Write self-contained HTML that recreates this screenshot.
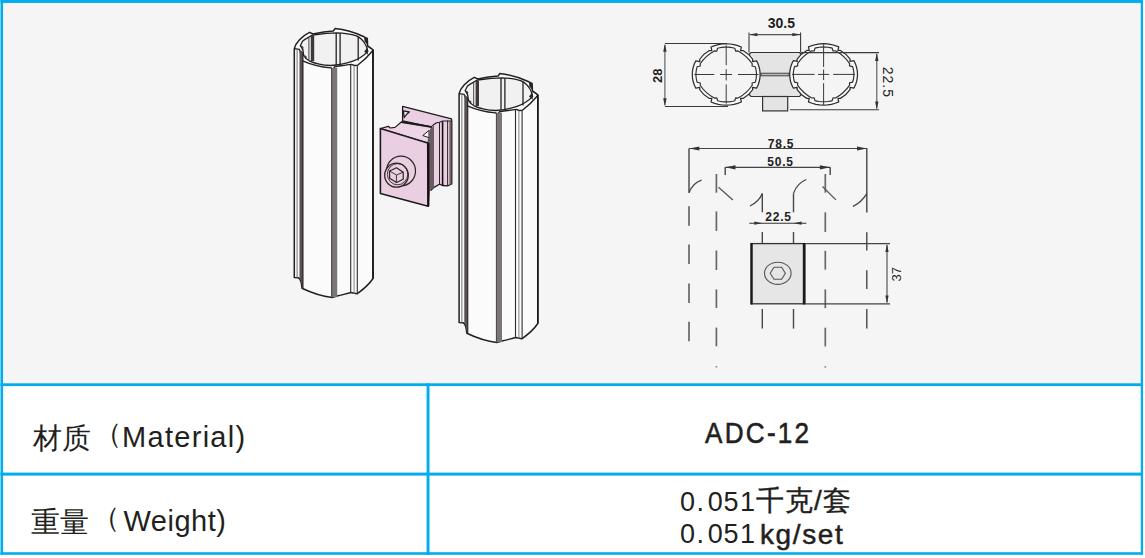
<!DOCTYPE html>
<html><head><meta charset="utf-8">
<style>
html,body{margin:0;padding:0;}
body{width:1145px;height:558px;position:relative;overflow:hidden;background:#fff;font-family:"Liberation Sans",sans-serif;}
.b{position:absolute;background:#00adee;}
.t{position:absolute;white-space:nowrap;color:#231f20;}
svg{position:absolute;left:0;top:0;}
</style></head>
<body>
<div style="position:absolute;left:0;top:0;width:1143px;height:384px;background:#f5f5f5"></div>
<svg width="1145" height="558" viewBox="0 0 1145 558">
<!--DRAWING-->
<defs>
<g id="tube">
  <!-- silhouette -->
  <path d="M294.3,48.6 C295.5,43 302,36 309.5,32.3 L313,34 C320,32.3 327,31.2 333.3,31 L335,28.6 C345,29.5 356,33 364,36.8 L367.3,38.5 L367.6,46 C369.5,47 371.3,48.5 373,49.8 L373,278.5 C368,286 361,291 357,293.8 L350.8,292.6 C345,294 340,295.5 336.8,296 L332,297.5 C320,296 310,292 302,288.2 C301.6,283 301,279 298.3,277.8 L294.3,277.4 Z" fill="#fbfbfb" stroke="#231f1f" stroke-width="1.5" stroke-linejoin="round"/>
  <!-- inner opening -->
  <path d="M300.3,45.7 L302.5,41.3 C304.5,39.5 307,38 309.3,36.8 L312,35.4 C314,34.8 315.5,34.6 316.9,34.5 C323,33.6 330,33 336.6,32.8 C344,33 351,34 356.5,35.8 C360,37.5 363.5,41 365.2,44 C366.5,46 367.2,48.5 367.8,51.4 C365.5,54 363,56 360.8,57.3 C358,59 355.5,60.3 352.9,61.2 C346,63.5 338,65.2 330.9,65.5 C323,65.2 315,63.5 309.3,60.8 C307,59.5 305,57.8 303.8,55.7 C303.2,53.5 303,51.5 303,50.2 C302.2,48.5 301.2,47 300.3,45.7 Z" fill="#f1f1f1" stroke="#231f1f" stroke-width="1.3" stroke-linejoin="round"/>
  <!-- inner back-wall lines -->
  <path d="M308.9,37.5 V60.5" stroke="#444" stroke-width="1"/>
  <rect x="310.8" y="36" width="3.4" height="25" fill="#3e3838"/>
  <path d="M336.2,33.2 V65 M340.1,33.2 V65" stroke="#262222" stroke-width="1.3"/>
  <path d="M358.2,36.5 V60.5" stroke="#262222" stroke-width="1.3"/>
  <!-- notches on inner ring -->
  <path d="M300.2,45.5 L303,47 L302.6,50.5" fill="none" stroke="#2e2a2a" stroke-width="1"/>
  <path d="M303.8,55.7 L306.2,56.5 L305.5,59" fill="none" stroke="#2e2a2a" stroke-width="1"/>
  <path d="M367.6,47.3 L367.9,54.8 L364.2,51.4 Z" fill="#2a2525"/>
  <path d="M364,37 L367.4,38.5 L367.6,45.2 L364.6,41.2 Z" fill="#2a2525"/>
  <!-- outer front edge of rim -->
  <path d="M294.3,48.6 L299.4,49.4 C300.5,52 301.5,56 302.6,60.8 C311,64.5 321,67 330.9,67.9 L332.8,69.5 L334.8,66.7 C340,66 346,65 351.3,64.4 L354.5,65.5 L357.6,65.3 C362,62 368,56.5 371.8,51.8 L373,49.8" fill="none" stroke="#231f1f" stroke-width="1.4" stroke-linejoin="round"/>
  <!-- body vertical lines -->
  <path d="M297.1,49.5 V277.8" stroke="#666" stroke-width="0.9"/>
  <path d="M299.5,49.4 L303,52 V288.2 L302,288.2 C301.6,283 301,279 299.5,278.2 Z" fill="#575151"/>
  <path d="M303,52 V288.2" stroke="#1e1a1a" stroke-width="1"/>
  <rect x="331.3" y="67.9" width="5.9" height="229.3" fill="#7a7676"/>
  <path d="M331.6,67.9 V297.3" stroke="#4a4545" stroke-width="1"/>
  <path d="M350.7,64.4 V293" stroke="#2e2a2a" stroke-width="1.1"/>
  <path d="M354.1,65.5 V293.8" stroke="#777" stroke-width="0.9"/>
  <path d="M357.3,65.3 V293.8" stroke="#2e2a2a" stroke-width="1.1"/>
  <path d="M373,49.8 V278.5" stroke="#1a1616" stroke-width="1.6"/>
</g>
</defs>
<use href="#tube"/>
<use href="#tube" x="164.8" y="45"/>

<!-- connector -->
<g stroke-linejoin="round">
  <!-- back flange + rib body -->
  <path d="M402.6,106.3 L451.5,118.8 L451.8,121.5 L451.8,184 L447.6,185.8 L442.5,185.5 L439.5,184.2 L434,187.4 L431,190.3 L431,127 L402.6,121 Z" fill="#eacfe2" stroke="#1f1b1c" stroke-width="1.3"/>
  <path d="M450.2,121.2 V184.5" stroke="#75656c" stroke-width="1.8"/>
  <path d="M439.5,122.5 V184.2" stroke="#2a2225" stroke-width="1"/>
  <path d="M442.6,121.5 V185.5" stroke="#141011" stroke-width="1.6"/>
  <path d="M447.6,120.5 V185.8" stroke="#2a2225" stroke-width="1"/>
  <path d="M430.9,126.9 L436,123 L439.5,122.3 L442.6,121 L451.5,121" fill="none" stroke="#1f1b1c" stroke-width="1.1"/>
  <!-- back flange notch -->
  <path d="M403.4,110.8 L409.3,112 Q406.5,114 404.2,117.5 Z" fill="#f7eef4" stroke="#1f1b1c" stroke-width="1.3"/>
  <!-- top face of middle -->
  <path d="M380.4,128.5 L388.4,126.3 L390.2,128 L395,127.4 L401.3,122 L430.9,126.9 L431.5,129 L428,142.5 L427.7,143 Z" fill="#edd4e6" stroke="#1f1b1c" stroke-width="1.2"/>
  <path d="M401.3,122 L430.9,126.9" stroke="#1f1b1c" stroke-width="1.8"/>
  <!-- front notch -->
  <path d="M429,130.5 L422.8,135.5 L429,137.7 Z" fill="#fff" stroke="#1f1b1c" stroke-width="1"/>
  <!-- side dark face -->
  <path d="M428,143 L429.5,130 L434,125.5 L434,187.4 L430,190.5 L428.8,206.3 Z" fill="#6b5c63"/>
  <!-- front face -->
  <path d="M380.4,128.5 L427.7,143 L428.2,206.3 L380.4,193.5 Z" fill="#eacfe2" stroke="#1f1b1c" stroke-width="1.6"/>
  <path d="M428.3,143 V206.3" stroke="#141011" stroke-width="2.2"/>
  <!-- screw -->
  <ellipse cx="401" cy="171" rx="14.5" ry="14.8" fill="#eacfe2" stroke="#2a2425" stroke-width="1.2"/>
  <path d="M388.5,166 L394,160.5 L403,168 L408.5,182 L400.8,186.5 L392,181 Z" fill="#eacfe2"/>
  <ellipse cx="396.5" cy="175.2" rx="11.8" ry="12" fill="#eacfe2" stroke="#2a2425" stroke-width="1.3"/>
  <ellipse cx="397.6" cy="174.2" rx="10.2" ry="10.6" fill="none" stroke="#2a2425" stroke-width="0.9"/>
  <path d="M389.6,171 L396.5,167.8 L403.2,172.2 L403.2,179.2 L396.5,182.5 L389.6,178.3 Z" fill="#eacfe2" stroke="#2a2425" stroke-width="1.2"/>
  <path d="M389.6,171 L396.5,175 L403.2,172.2 M396.5,175 L396.3,182.4" fill="none" stroke="#2a2425" stroke-width="0.9"/>
</g>
<!-- /connector -->
<!-- tech -->
<path d="M751,52.5 L799.5,52.5 L801,54 L801,95 L799.5,96.5 L751,96.5 L749.5,95 L749.5,54 Z" fill="#e4e4e4" stroke="#333" stroke-width="1.2"/>
<rect x="762.6" y="96.5" width="25.1" height="14.4" fill="#e4e4e4" stroke="#333" stroke-width="1.2"/>
<rect x="761" y="73.2" width="28" height="2.6" fill="#bdbdbd" stroke="#333" stroke-width="0.9"/>
<path d="M664.90,43.50 L727.00,43.50" stroke="#3a3a3a" stroke-width="1.10"/>
<path d="M664.90,106.50 L728.00,106.50" stroke="#3a3a3a" stroke-width="1.10"/>
<path d="M664.90,45.00 L664.90,105.00" stroke="#555" stroke-width="1.10"/>
<path d="M664.90,43.80 L666.60,51.80 L663.20,51.80 Z" fill="#333"/>
<path d="M664.90,106.20 L663.20,98.20 L666.60,98.20 Z" fill="#333"/>
<path d="M749.00,32.50 L749.00,52.50" stroke="#3a3a3a" stroke-width="1.10"/>
<path d="M800.60,32.50 L800.60,52.50" stroke="#3a3a3a" stroke-width="1.10"/>
<path d="M750.00,34.60 L800.00,34.60" stroke="#555" stroke-width="1.10"/>
<path d="M749.30,34.60 L757.30,32.90 L757.30,36.30 Z" fill="#333"/>
<path d="M800.30,34.60 L792.30,36.30 L792.30,32.90 Z" fill="#333"/>
<path d="M790.00,109.80 L879.00,109.80" stroke="#3a3a3a" stroke-width="1.10"/>
<path d="M876.80,54.00 L876.80,108.50" stroke="#555" stroke-width="1.10"/>
<path d="M876.80,52.90 L878.50,60.90 L875.10,60.90 Z" fill="#333"/>
<path d="M876.80,109.50 L875.10,101.50 L878.50,101.50 Z" fill="#333"/>
<path d="M756.56,60.80 L758.10,64.06 L759.22,67.46 L759.90,70.96 L760.12,74.50 L759.90,78.04 L759.22,81.54 L758.10,84.94 L756.56,88.20 L752.61,87.48 L752.67,89.76 Q749.02,95.15 743.06,98.45 L740.54,98.40 L741.34,101.97 L737.73,103.37 L733.98,104.38 L730.11,105.00 L726.20,105.20 L722.29,105.00 L718.42,104.38 L714.67,103.37 L711.06,101.97 L711.86,98.40 L709.34,98.45 Q703.38,95.15 699.73,89.76 L699.79,87.48 L695.84,88.20 L694.30,84.94 L693.18,81.54 L692.50,78.04 L692.28,74.50 L692.50,70.96 L693.18,67.46 L694.30,64.06 L695.84,60.80 L699.79,61.52 L699.73,59.24 Q703.38,53.85 709.34,50.55 L711.86,50.60 L711.06,47.03 L714.67,45.63 L718.42,44.62 L722.29,44.00 L726.20,43.80 L730.11,44.00 L733.98,44.62 L737.73,45.63 L741.34,47.03 L740.54,50.60 L743.06,50.55 Q749.02,53.85 752.67,59.24 L752.61,61.52 Z" fill="#f9f9f9" stroke="#2e2e2e" stroke-width="1.25" stroke-linejoin="round"/>
<path d="M755.23,66.72 L755.77,68.63 L756.16,70.57 L756.40,72.53 L756.48,74.50 L756.40,76.47 L756.16,78.43 L755.77,80.37 L755.23,82.28 L752.06,83.02 L752.24,85.24 Q746.91,93.24 738.07,98.07 L735.61,97.90 L734.80,100.77 L732.69,101.26 L730.54,101.62 L728.38,101.83 L726.20,101.90 L724.02,101.83 L721.86,101.62 L719.71,101.26 L717.60,100.77 L716.79,97.90 L714.33,98.07 Q705.49,93.24 700.16,85.24 L700.34,83.02 L697.17,82.28 L696.63,80.37 L696.24,78.43 L696.00,76.47 L695.92,74.50 L696.00,72.53 L696.24,70.57 L696.63,68.63 L697.17,66.72 L700.34,65.98 L700.16,63.76 Q705.49,55.76 714.33,50.93 L716.79,51.10 L717.60,48.23 L719.71,47.74 L721.86,47.38 L724.02,47.17 L726.20,47.10 L728.38,47.17 L730.54,47.38 L732.69,47.74 L734.80,48.23 L735.61,51.10 L738.07,50.93 Q746.91,55.76 752.24,63.76 L752.06,65.98 Z" fill="#f4f4f4" stroke="#2e2e2e" stroke-width="1.15" stroke-linejoin="round"/>
<path d="M853.96,60.70 L855.50,63.96 L856.62,67.36 L857.30,70.86 L857.52,74.40 L857.30,77.94 L856.62,81.44 L855.50,84.84 L853.96,88.10 L850.01,87.38 L850.07,89.66 Q846.42,95.05 840.46,98.35 L837.94,98.30 L838.74,101.87 L835.13,103.27 L831.38,104.28 L827.51,104.90 L823.60,105.10 L819.69,104.90 L815.82,104.28 L812.07,103.27 L808.46,101.87 L809.26,98.30 L806.74,98.35 Q800.78,95.05 797.13,89.66 L797.19,87.38 L793.24,88.10 L791.70,84.84 L790.58,81.44 L789.90,77.94 L789.68,74.40 L789.90,70.86 L790.58,67.36 L791.70,63.96 L793.24,60.70 L797.19,61.42 L797.13,59.14 Q800.78,53.75 806.74,50.45 L809.26,50.50 L808.46,46.93 L812.07,45.53 L815.82,44.52 L819.69,43.90 L823.60,43.70 L827.51,43.90 L831.38,44.52 L835.13,45.53 L838.74,46.93 L837.94,50.50 L840.46,50.45 Q846.42,53.75 850.07,59.14 L850.01,61.42 Z" fill="#f9f9f9" stroke="#2e2e2e" stroke-width="1.25" stroke-linejoin="round"/>
<path d="M852.63,66.62 L853.17,68.53 L853.56,70.47 L853.80,72.43 L853.88,74.40 L853.80,76.37 L853.56,78.33 L853.17,80.27 L852.63,82.18 L849.46,82.92 L849.64,85.14 Q844.31,93.14 835.47,97.97 L833.01,97.80 L832.20,100.67 L830.09,101.16 L827.94,101.52 L825.78,101.73 L823.60,101.80 L821.42,101.73 L819.26,101.52 L817.11,101.16 L815.00,100.67 L814.19,97.80 L811.73,97.97 Q802.89,93.14 797.56,85.14 L797.74,82.92 L794.57,82.18 L794.03,80.27 L793.64,78.33 L793.40,76.37 L793.32,74.40 L793.40,72.43 L793.64,70.47 L794.03,68.53 L794.57,66.62 L797.74,65.88 L797.56,63.66 Q802.89,55.66 811.73,50.83 L814.19,51.00 L815.00,48.13 L817.11,47.64 L819.26,47.28 L821.42,47.07 L823.60,47.00 L825.78,47.07 L827.94,47.28 L830.09,47.64 L832.20,48.13 L833.01,51.00 L835.47,50.83 Q844.31,55.66 849.64,63.66 L849.46,65.88 Z" fill="#f4f4f4" stroke="#2e2e2e" stroke-width="1.15" stroke-linejoin="round"/>
<path d="M801.00,52.60 L879.00,52.60" stroke="#3a3a3a" stroke-width="1.10"/>
<path d="M694.30,74.50 L714.20,74.50" stroke="#3a3a3a" stroke-width="1.00"/>
<path d="M720.10,74.50 L732.00,74.50" stroke="#3a3a3a" stroke-width="1.00"/>
<path d="M738.00,74.50 L758.60,74.50" stroke="#3a3a3a" stroke-width="1.00"/>
<path d="M726.20,45.30 L726.20,65.20" stroke="#3a3a3a" stroke-width="1.00"/>
<path d="M726.20,69.20 L726.20,80.40" stroke="#3a3a3a" stroke-width="1.00"/>
<path d="M726.20,84.40 L726.20,103.60" stroke="#3a3a3a" stroke-width="1.00"/>
<path d="M792.00,74.40 L814.70,74.40" stroke="#3a3a3a" stroke-width="1.00"/>
<path d="M818.00,74.40 L829.20,74.40" stroke="#3a3a3a" stroke-width="1.00"/>
<path d="M833.20,74.40 L855.00,74.40" stroke="#3a3a3a" stroke-width="1.00"/>
<path d="M823.60,44.50 L823.60,67.00" stroke="#3a3a3a" stroke-width="1.00"/>
<path d="M823.60,69.50 L823.60,80.00" stroke="#3a3a3a" stroke-width="1.00"/>
<path d="M823.60,83.20 L823.60,105.00" stroke="#3a3a3a" stroke-width="1.00"/>
<path d="M689.00,148.50 L867.30,148.50" stroke="#444" stroke-width="1.20"/>
<path d="M689.30,148.50 L699.30,146.40 L699.30,150.60 Z" fill="#333"/>
<path d="M867.00,148.50 L857.00,150.60 L857.00,146.40 Z" fill="#333"/>
<path d="M689.00,148.50 L689.00,192.70" stroke="#444" stroke-width="1.40"/>
<path d="M866.80,148.50 L866.80,212.60" stroke="#444" stroke-width="1.40"/>
<path d="M725.20,167.30 L830.20,167.30" stroke="#444" stroke-width="1.20"/>
<path d="M725.50,167.30 L735.50,165.20 L735.50,169.40 Z" fill="#333"/>
<path d="M829.90,167.30 L819.90,169.40 L819.90,165.20 Z" fill="#333"/>
<path d="M725.20,167.30 L725.20,175.00" stroke="#444" stroke-width="1.40"/>
<path d="M830.20,167.30 L830.20,175.00" stroke="#444" stroke-width="1.40"/>
<path d="M749.30,223.20 L806.40,223.20" stroke="#333" stroke-width="1.10"/>
<path d="M762.30,223.20 L754.30,224.80 L754.30,221.60 Z" fill="#333"/>
<path d="M793.60,223.20 L801.60,221.60 L801.60,224.80 Z" fill="#333"/>
<path d="M689.00,206.30 L689.00,225.80" stroke="#4a4646" stroke-width="1.40"/>
<path d="M689.00,244.50 L689.00,264.00" stroke="#4a4646" stroke-width="1.40"/>
<path d="M689.00,283.40 L689.00,303.00" stroke="#4a4646" stroke-width="1.40"/>
<path d="M689.00,321.70 L689.00,341.20" stroke="#4a4646" stroke-width="1.40"/>
<path d="M716.40,174.00 L716.40,192.70" stroke="#6a6666" stroke-width="1.70"/>
<path d="M716.40,211.40 L716.40,230.90" stroke="#6a6666" stroke-width="1.70"/>
<path d="M716.40,250.50 L716.40,270.00" stroke="#6a6666" stroke-width="1.70"/>
<path d="M716.40,289.40 L716.40,308.00" stroke="#6a6666" stroke-width="1.70"/>
<path d="M716.40,327.60 L716.40,346.30" stroke="#6a6666" stroke-width="1.70"/>
<path d="M716.40,366.20 L716.40,367.40" stroke="#6a6666" stroke-width="1.70"/>
<path d="M762.30,193.40 L762.30,212.30" stroke="#4a4646" stroke-width="1.40"/>
<path d="M762.30,232.00 L762.30,243.10" stroke="#4a4646" stroke-width="1.40"/>
<path d="M762.30,309.00 L762.30,328.60" stroke="#4a4646" stroke-width="1.40"/>
<path d="M793.50,193.40 L793.50,212.30" stroke="#4a4646" stroke-width="1.40"/>
<path d="M793.50,232.00 L793.50,243.10" stroke="#4a4646" stroke-width="1.40"/>
<path d="M793.50,309.00 L793.50,328.60" stroke="#4a4646" stroke-width="1.40"/>
<path d="M825.30,174.00 L825.30,192.70" stroke="#6a6666" stroke-width="1.70"/>
<path d="M825.30,212.30 L825.30,232.00" stroke="#6a6666" stroke-width="1.70"/>
<path d="M825.30,250.80 L825.30,269.60" stroke="#6a6666" stroke-width="1.70"/>
<path d="M825.30,289.40 L825.30,308.10" stroke="#6a6666" stroke-width="1.70"/>
<path d="M825.30,327.70 L825.30,346.40" stroke="#6a6666" stroke-width="1.70"/>
<path d="M825.30,366.30 L825.30,367.50" stroke="#6a6666" stroke-width="1.70"/>
<path d="M866.80,232.30 L866.80,250.60" stroke="#4a4646" stroke-width="1.40"/>
<path d="M866.80,270.30 L866.80,289.10" stroke="#4a4646" stroke-width="1.40"/>
<path d="M866.80,308.90 L866.80,328.60" stroke="#4a4646" stroke-width="1.40"/>
<path d="M689,192.7 C691.5,186.5 696,182 701.5,180.2" fill="none" stroke="#444" stroke-width="1.3"/>
<path d="M718.5,187.3 L732.9,199.9" fill="none" stroke="#555" stroke-width="1.3"/>
<path d="M749.9,206 C755,203.5 760,199 762.3,193.4" fill="none" stroke="#444" stroke-width="1.3"/>
<path d="M793.5,193.4 C795.5,187.5 800,182 806.3,179.5" fill="none" stroke="#444" stroke-width="1.3"/>
<path d="M822.5,186.5 L835.9,199.9" fill="none" stroke="#555" stroke-width="1.3"/>
<path d="M852.9,206.3 C858,204 863.5,199 866.8,193.6" fill="none" stroke="#444" stroke-width="1.3"/>
<rect x="751.5" y="243.6" width="52.5" height="60.2" fill="#e6e6e6" stroke="#333" stroke-width="1.3"/>
<path d="M751.50,243.00 L751.50,304.50" stroke="#1a1a1a" stroke-width="2.40"/>
<path d="M804.20,243.00 L804.20,304.50" stroke="#1a1a1a" stroke-width="2.80"/>
<path d="M805.00,243.60 L890.00,243.60" stroke="#444" stroke-width="1.20"/>
<path d="M805.00,303.80 L890.00,303.80" stroke="#444" stroke-width="1.20"/>
<path d="M887.00,245.00 L887.00,302.50" stroke="#555" stroke-width="1.20"/>
<path d="M887.00,244.00 L888.60,252.00 L885.40,252.00 Z" fill="#333"/>
<path d="M887.00,303.40 L885.40,295.40 L888.60,295.40 Z" fill="#333"/>
<ellipse cx="777.8" cy="273.3" rx="13.3" ry="11.1" fill="none" stroke="#555" stroke-width="1.1"/>
<path d="M770.2,273.3 L774,267.3 L781.6,267.3 L785.4,273.3 L781.6,279.3 L774,279.3 Z" fill="none" stroke="#555" stroke-width="1.1"/>
<g font-family="Liberation Sans, sans-serif"><text x="781.30" y="27.50" font-size="14" font-weight="bold" letter-spacing="0" text-anchor="middle" fill="#1e1e1e">30.5</text>
<text x="662.50" y="75.70" font-size="13" font-weight="bold" letter-spacing="0" text-anchor="middle" fill="#1e1e1e" transform="rotate(-90 662.50 75.70)">28</text>
<text x="882.50" y="82.40" font-size="14" font-weight="normal" letter-spacing="1" text-anchor="middle" fill="#1e1e1e" transform="rotate(90 882.50 82.40)">22.5</text>
<text x="781.00" y="148.00" font-size="12" font-weight="bold" letter-spacing="0.8" text-anchor="middle" fill="#1e1e1e">78.5</text>
<text x="780.50" y="166.00" font-size="12" font-weight="bold" letter-spacing="0.8" text-anchor="middle" fill="#1e1e1e">50.5</text>
<text x="778.50" y="220.50" font-size="12" font-weight="bold" letter-spacing="0.8" text-anchor="middle" fill="#1e1e1e">22.5</text>
<text x="901.00" y="274.30" font-size="13" font-weight="normal" letter-spacing="0" text-anchor="middle" fill="#1e1e1e" transform="rotate(-90 901.00 274.30)">37</text></g>
<!-- /tech -->
</svg>
<!-- borders -->
<svg width="1145" height="558" viewBox="0 0 1145 558" style="position:absolute;left:0;top:0">
<g fill="#00adee" shape-rendering="geometricPrecision">
<rect x="0.5" y="0" width="1142.5" height="2.95"/>
<rect x="0.5" y="0" width="2.55" height="554.8"/>
<rect x="1140.75" y="0" width="2.3" height="554.8"/>
<rect x="0.5" y="552.2" width="1142.5" height="2.6"/>
<rect x="0.5" y="383.3" width="1142.5" height="2.8"/>
<rect x="0.5" y="472.6" width="1142.5" height="3.0"/>
<rect x="426.6" y="383.3" width="2.9" height="171.5"/>
</g>
</svg>
<!-- table text -->
<div class="t" style="left:33px;top:421px;font-size:29px;line-height:34px">材质</div>
<div class="t" style="left:94px;top:417px;font-size:28px;line-height:34px">（</div>
<div class="t" style="left:122px;top:420px;font-size:29px;line-height:34px;letter-spacing:1.3px">Material)</div>
<div class="t" style="left:31px;top:505px;font-size:29px;line-height:34px">重量</div>
<div class="t" style="left:92px;top:501px;font-size:28px;line-height:34px">（</div>
<div class="t" style="left:123.5px;top:504px;font-size:29px;line-height:34px;letter-spacing:0.5px">Weight)</div>
<div class="t" style="left:704.5px;top:416px;font-size:30px;line-height:34px;letter-spacing:2.6px;transform:scaleX(0.87);transform-origin:0 0;-webkit-text-stroke:0.6px #231f20">ADC-12</div>
<div class="t" style="left:680px;top:485.5px;font-size:27px;line-height:32px;letter-spacing:1.5px">0<span style="letter-spacing:3.8px">.</span><span style="letter-spacing:0.5px">0</span>51</div>
<div class="t" style="left:756px;top:485px;font-size:28px;line-height:32px;letter-spacing:1px;-webkit-text-stroke:0.4px #231f20">千克/套</div>
<div class="t" style="left:680px;top:518px;font-size:27px;line-height:32px;letter-spacing:1.5px">0<span style="letter-spacing:3.8px">.</span><span style="letter-spacing:0.5px">0</span>51</div>
<div class="t" style="left:760px;top:519px;font-size:28px;line-height:32px;letter-spacing:1.6px;-webkit-text-stroke:0.5px #231f20">kg/set</div>
</body></html>
